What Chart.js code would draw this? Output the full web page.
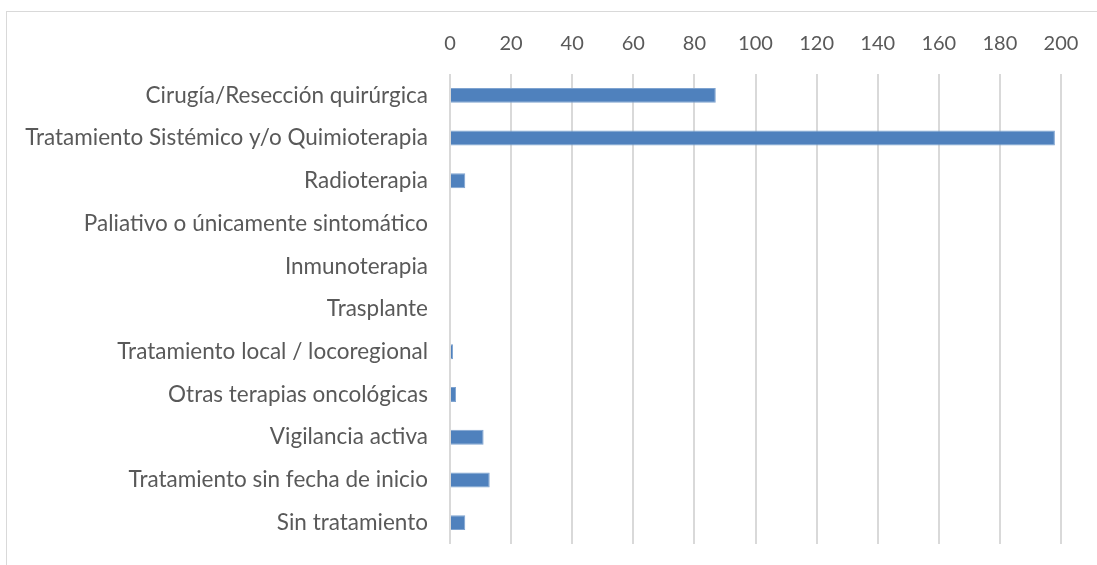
<!DOCTYPE html>
<html><head><meta charset="utf-8">
<script src="https://cdn.jsdelivr.net/npm/chart.js@4"></script>
<style>
html,body{margin:0;padding:0;background:#fff;}
#frame{position:absolute;left:6px;top:11px;width:1100px;height:600px;border:1px solid #d9d9d9;box-sizing:border-box;}
#wrap{position:absolute;left:0;top:0;width:1097px;height:565px;}
</style></head>
<body>
<div id="frame"></div>
<div id="wrap"><canvas id="c" width="1097" height="565"></canvas></div>
<script>
const categories = [
  "Cirugía/Resección quirúrgica",
  "Tratamiento Sistémico y/o Quimioterapia",
  "Radioterapia",
  "Paliativo o únicamente sintomático",
  "Inmunoterapia",
  "Trasplante",
  "Tratamiento local / locoregional",
  "Otras terapias oncológicas",
  "Vigilancia activa",
  "Tratamiento sin fecha de inicio",
  "Sin tratamiento"
];
const values = [87, 198, 5, 0, 0, 0, 1, 2, 11, 13, 5];
const axisMin = 0, axisMax = 200, axisStep = 20;

const FONT = "Lato";
new Chart(document.getElementById('c'), {
  type: 'bar',
  data: {
    labels: categories,
    datasets: [{
      data: values,
      backgroundColor: '#4f81bd',
      borderColor: '#7ea3d0',
      borderWidth: 1,
      categoryPercentage: 1,
      barPercentage: 0.35
    }]
  },
  options: {
    indexAxis: 'y',
    responsive: false,
    animation: false,
    layout: { padding: { left: 0, right: 36, top: 0, bottom: 21 } },
    plugins: { legend: { display: false }, tooltip: { enabled: false } },
    scales: {
      x: {
        position: 'top',
        min: axisMin, max: axisMax,
        ticks: { stepSize: axisStep, color: '#595959', font: { family: FONT, size: 20 }, padding: 18 },
        grid: { color: '#d9d9d9', lineWidth: 2, drawTicks: false },
        border: { display: false },
        afterFit: s => { s.height = 74; s.paddingLeft = 0; s.paddingRight = 0; }
      },
      y: {
        ticks: { color: '#595959', font: { family: FONT, size: 22.5 }, padding: 22, autoSkip: false },
        grid: { display: false, drawTicks: false },
        border: { display: false },
        afterFit: s => { s.width = 450; s.paddingTop = 0; s.paddingBottom = 0; }
      }
    }
  }
});
</script>
</body></html>
